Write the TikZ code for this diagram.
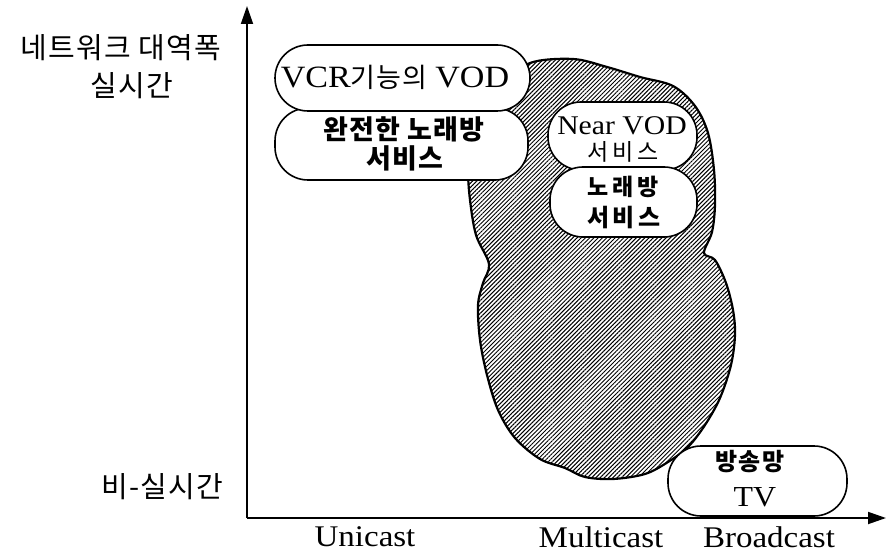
\documentclass[tikz,border=0pt]{standalone}
\usepackage{fontspec}
\setmainfont{Liberation Serif}
\newfontfamily\lat[FakeStretch=1.1]{Liberation Serif}
\newfontfamily\kr[LetterSpace=4]{Noto Sans CJK KR}
\newfontfamily\krw[LetterSpace=16]{Noto Sans CJK KR}
\usetikzlibrary{arrows.meta,patterns.meta}
\tikzset{
  box/.style={draw, line width=1.6pt, fill=white, rounded corners=33pt, inner sep=0pt, align=center},
  axisline/.style={line width=1.8pt, -{Triangle[length=18pt,width=12pt]}},
  lab/.style={inner sep=0pt, align=center},
  blob/.style={line width=2.2pt, pattern={Lines[angle=45,distance=3pt,line width=1pt]}}
}
\begin{document}
\begin{tikzpicture}[x=1pt,y=-1pt]
\useasboundingbox (0,0) rectangle (886,556);
% blob
\draw[blob] plot[smooth cycle, tension=0.55] coordinates {
 (530,63) (573,59) (607,67) (640,77) (673,86) (695,106) (708,133) (714,170)
 (715,205) (712,232) (704,253) (715,260) (726,283) (733,310) (735,335)
 (731,365) (720,398) (705,425) (688,447) (668,462) (645,474) (613,479)
 (585,477) (565,468) (540,459) (515,438) (498,410) (487,375) (480,340)
 (478,305) (483,283) (489,264) (476,235) (470,200) (468,170) (470,140)
 (485,115) (505,85)};
% axes
\coordinate (O) at (247,518);
\coordinate (ytip) at (247,6);
\coordinate (xtip) at (886,518);
\draw[axisline] (O) -- (ytip);
\draw[axisline] (O) -- (xtip);
% boxes
\node[box, minimum width=253pt, minimum height=72pt] (kfull) at (401.5,144) {};
\node[box, minimum width=255pt, minimum height=66pt] (vcr) at (402.5,78) {};
\node[box, minimum width=149pt, minimum height=68pt] (nvod) at (622.5,136) {};
\node[box, minimum width=147pt, minimum height=70pt] (kara) at (623.5,202) {};
\node[box, minimum width=179pt, minimum height=70pt] (tv) at (757.5,481) {};
% box texts
\node[lab] (vcrt) at (395,77) {\fontsize{31}{34}\selectfont{\lat VCR}{\kr\fontsize{27}{30}\selectfont 기능의} {\lat VOD}};
\node[lab] (kf1) at (404,129) {\kr\bfseries\fontsize{27}{30}\selectfont 완전한 노래방};
\node[lab] (kf2) at (405,158) {\kr\bfseries\fontsize{27}{30}\selectfont 서비스};
\node[lab] (nv1) at (622,126) {\lat\fontsize{27}{30}\selectfont Near VOD};
\node[lab] (nv2) at (623,152) {\krw\fontsize{23}{25}\selectfont 서비스};
\node[lab] (ka1) at (623,187) {\krw\bfseries\fontsize{23}{25}\selectfont 노래방};
\node[lab] (ka2) at (624,218) {\krw\bfseries\fontsize{24}{25}\selectfont 서비스};
\node[lab] (tv1) at (750,462) {\kr\bfseries\fontsize{24}{25}\selectfont 방송망};
\node[lab] (tv2) at (755,497) {\lat\fontsize{29}{32}\selectfont TV};
% axis labels
\node[lab] (bw) at (121,48) {\kr\fontsize{29}{32}\selectfont 네트워크 대역폭};
\node[lab] (rt) at (132,86) {\kr\fontsize{29}{32}\selectfont 실시간};
\node[lab] (nrt) at (162,487) {\kr\fontsize{29}{32}\selectfont 비-실시간};
\node[lab] (uni) at (365,537) {\lat\fontsize{30}{33}\selectfont Unicast};
\node[lab] (multi) at (601,537) {\lat\fontsize{30}{33}\selectfont Multicast};
\node[lab] (broad) at (769,537) {\lat\fontsize{30}{33}\selectfont Broadcast};
\end{tikzpicture}
\end{document}
